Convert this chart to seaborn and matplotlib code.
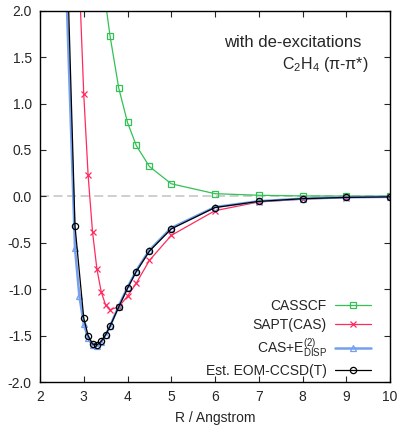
import matplotlib
matplotlib.use("Agg")
import matplotlib.pyplot as plt
import seaborn as sns
import numpy as np

# --- data ---
x_casscf = [3.5, 3.6, 3.8, 4.0, 4.2, 4.5, 5.0, 6.0, 7.0, 8.0, 9.0, 10.0]
y_casscf = [2.08, 1.73, 1.166, 0.796, 0.548, 0.322, 0.136, 0.029, 0.012, 0.005, 0.003, 0.002]

x_sapt = [2.9, 3.0, 3.1, 3.2, 3.3, 3.4, 3.5, 3.6, 3.8, 4.0, 4.2, 4.5, 5.0, 6.0, 7.0, 8.0, 9.0, 10.0]
y_sapt = [2.32, 1.10, 0.226, -0.38, -0.78, -1.03, -1.17, -1.22, -1.19, -1.075, -0.935, -0.69, -0.42,
          -0.154, -0.06, -0.03, -0.012, -0.005]

x_casdisp = [2.6, 2.8, 2.9, 3.0, 3.1, 3.2, 3.3, 3.4, 3.5, 3.6, 3.8, 4.0, 4.2, 4.5, 5.0, 6.0, 7.0, 8.0, 9.0, 10.0]
y_casdisp = [2.26, -0.56, -1.075, -1.37, -1.53, -1.60, -1.61, -1.57, -1.49, -1.40, -1.18, -0.98, -0.80,
             -0.58, -0.34, -0.115, -0.052, -0.024, -0.010, -0.005]

x_eom = [2.6, 2.8, 3.0, 3.1, 3.2, 3.3, 3.4, 3.5, 3.6, 3.8, 4.0, 4.2, 4.5, 5.0, 6.0, 7.0, 8.0, 9.0, 10.0]
y_eom = [2.9, -0.32, -1.31, -1.50, -1.59, -1.60, -1.56, -1.49, -1.40, -1.19, -0.99, -0.81, -0.59,
         -0.35, -0.12, -0.054, -0.025, -0.011, -0.005]

labels = ["CASSCF", "SAPT(CAS)", "CAS+E$_{\\mathrm{DISP}}^{(2)}$", "Est. EOM-CCSD(T)"]
x_ticks = [2, 3, 4, 5, 6, 7, 8, 9, 10]
y_ticks = [-2.0, -1.5, -1.0, -0.5, 0.0, 0.5, 1.0, 1.5, 2.0]

sns.set_style("ticks")
plt.rcParams["font.family"] = ["Liberation Sans", "DejaVu Sans"]
plt.rcParams["mathtext.fontset"] = "custom"
plt.rcParams["mathtext.rm"] = "Liberation Sans"
plt.rcParams["mathtext.it"] = "Liberation Sans:italic"
plt.rcParams["font.size"] = 10

fig = plt.figure(figsize=(4.0, 4.26), dpi=100)
ax = fig.add_axes([0.1, 0.103, 0.875, 0.872])

ax.axhline(0, color="#cccccc", lw=1.3, ls=(0, (5, 2.5)), zorder=0)

styles = [
    dict(x=x_casscf, y=y_casscf, color="#33c155", marker="s", ms=4.0, lw=0.9),
    dict(x=x_sapt, y=y_sapt, color="#ff2a5e", marker="x", ms=4.5, lw=0.9),
    dict(x=x_casdisp, y=y_casdisp, color="#74a0ee", marker="^", ms=4.5, lw=1.8),
    dict(x=x_eom, y=y_eom, color="#000000", marker="o", ms=4.5, lw=0.9),
]
for st, lab in zip(styles, labels):
    sns.lineplot(x=st["x"], y=st["y"], ax=ax, color=st["color"], marker=st["marker"],
                 markersize=st["ms"], lw=st["lw"], sort=False, label=lab,
                 markerfacecolor="none", markeredgecolor=st["color"], markeredgewidth=0.9)

ax.set_xlim(2, 10)
ax.set_ylim(-2, 2)
ax.set_xticks(x_ticks)
ax.set_xticklabels([str(v) for v in x_ticks])
ax.set_yticks(y_ticks)
ax.set_yticklabels([f"{v:.1f}" for v in y_ticks])
ax.tick_params(direction="in", length=4, width=0.8, top=True, right=True, labelsize=10, pad=6)
for sp in ax.spines.values():
    sp.set_linewidth(1.0)
    sp.set_color("black")
ax.set_xlabel("R / Angstrom", fontsize=10, labelpad=5)
ax.set_ylabel("")

ax.text(0.917, 0.915, "with de-excitations", transform=ax.transAxes, ha="right", va="center", fontsize=12)
ax.text(0.94, 0.856, "C$_2$H$_4$ (π-π*)", transform=ax.transAxes, ha="right", va="center", fontsize=11.5)

leg = ax.legend(loc="lower right", bbox_to_anchor=(0.966, -0.008), frameon=False, markerfirst=False,
                handlelength=2.6, handletextpad=0.6, labelspacing=0.33, borderpad=0.0,
                numpoints=1, fontsize=10)

fig.savefig("out.png", dpi=100)
